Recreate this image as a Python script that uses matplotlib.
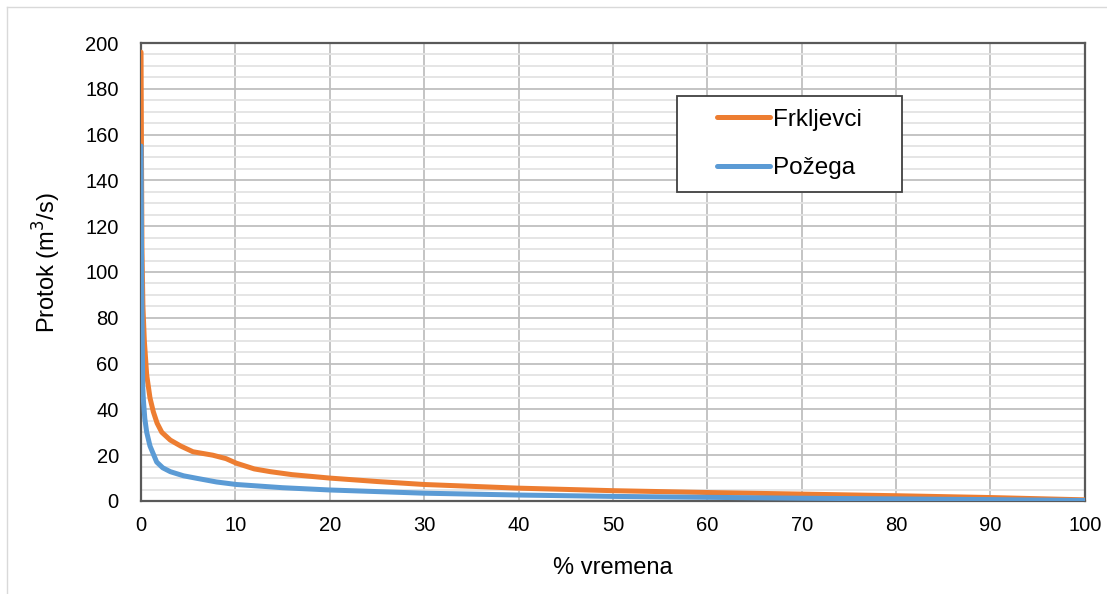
import matplotlib
matplotlib.use("Agg")
import matplotlib.pyplot as plt
from matplotlib.ticker import MultipleLocator
from matplotlib.lines import Line2D
from matplotlib.patches import Rectangle

plt.rcParams['font.family'] = ['Liberation Sans', 'DejaVu Sans']

# Flow duration curves (% of time vs discharge m3/s)
frk_x = [0, 0.05, 0.1, 0.2, 0.35, 0.6, 0.95, 1.3, 1.7, 2.2, 3.1, 4.2, 5.5, 7.6, 9, 10.1, 12,
         13.7, 16, 20, 25, 30, 40, 50, 60, 70, 80, 90, 100]
frk_y = [196, 150, 110, 85, 70, 55, 45, 39, 34, 30, 26.6, 24, 21.5, 20, 18.5, 16.5, 14,
         12.8, 11.5, 10, 8.5, 7.2, 5.6, 4.5, 3.7, 3.0, 2.3, 1.5, 0.5]

poz_x = [0, 0.05, 0.1, 0.18, 0.25, 0.4, 0.6, 0.95, 1.66, 2.3, 3.1, 4.5, 5.9, 8, 10.1, 15,
         20, 30, 40, 50, 60, 70, 80, 90, 100]
poz_y = [155, 110, 80, 50, 44, 36, 30, 24, 17, 14.5, 12.8, 11, 9.9, 8.3, 7.2, 5.8,
         4.8, 3.4, 2.6, 2.0, 1.6, 1.2, 0.9, 0.6, 0.2]

series_names = ["Frkljevci", "Požega"]
x_ticks = list(range(0, 101, 10))
y_ticks = list(range(0, 201, 20))

fig = plt.figure(figsize=(11.07, 5.94), dpi=100)
ax = fig.add_axes([0.1274, 0.1566, 0.8526, 0.771])

# outer chart border (top/left visible)
fig.add_artist(Line2D([7/1107, 7/1107], [0, 1 - 7/594], transform=fig.transFigure,
                      color='#d9d9d9', lw=1))
fig.add_artist(Line2D([7/1107, 1], [1 - 7/594, 1 - 7/594], transform=fig.transFigure,
                      color='#d9d9d9', lw=1))

orange = '#ED7D31'
blue = '#5B9BD5'
ax.plot(frk_x, frk_y, color=orange, lw=3.6, label=series_names[0],
        solid_capstyle='round', solid_joinstyle='round', zorder=3)
ax.plot(poz_x, poz_y, color=blue, lw=3.6, label=series_names[1],
        solid_capstyle='round', solid_joinstyle='round', zorder=3)

ax.set_xlim(0, 100)
ax.set_ylim(0, 200)
ax.set_xticks(x_ticks)
ax.set_yticks(y_ticks)
ax.yaxis.set_minor_locator(MultipleLocator(5))
ax.grid(which='major', axis='both', color='#bfbfbf', lw=1.3)
ax.grid(which='minor', axis='y', color='#e3e3e3', lw=1.3)
ax.set_axisbelow(True)

for s in ax.spines.values():
    s.set_color('#595959')
    s.set_linewidth(1.6)

ax.tick_params(which='both', length=0)
ax.tick_params(axis='y', pad=16, labelsize=14.5, colors='black')
ax.tick_params(axis='x', pad=11, labelsize=14.5, colors='black')

ax.set_xlabel('% vremena', fontsize=17, labelpad=16)
ax.set_ylabel('Protok (m$^3$/s)', fontsize=17)
ax.yaxis.set_label_coords((63 - 141) / 944, (501 - 263) / 458)

# legend frame
ax.add_patch(Rectangle((0.568, 0.675), 0.238, 0.209, transform=ax.transAxes,
                       facecolor='white', edgecolor='#404040', lw=1.3, zorder=4))
leg = ax.legend(loc='center left', bbox_to_anchor=((717 - 141) / 944, 0.7795),
                frameon=False, fontsize=17.5, handlelength=2.18, handletextpad=0.12,
                labelspacing=1.1, borderpad=0, borderaxespad=0)
leg.set_zorder(5)

fig.savefig('out.png', dpi=100)
